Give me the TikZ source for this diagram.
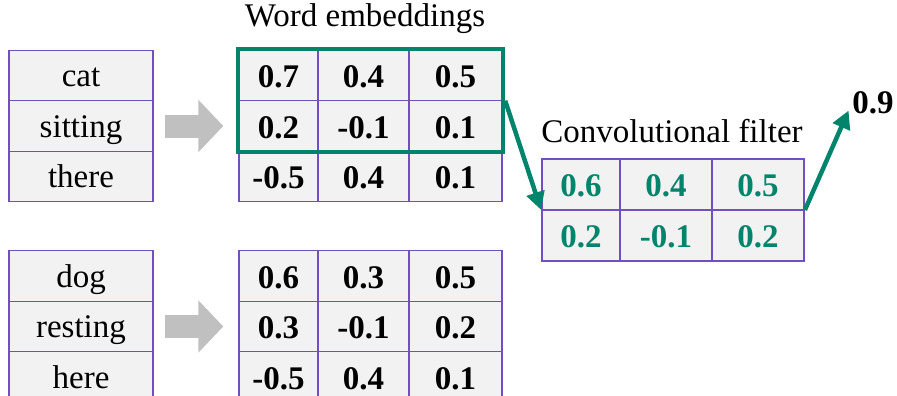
\documentclass[tikz,border=0pt]{standalone}
\usepackage{fontspec}
\setmainfont{Liberation Serif}
\usetikzlibrary{positioning, fit, arrows.meta}
\definecolor{gridpurple}{RGB}{112,80,192}
\definecolor{filtergreen}{RGB}{0,133,108}
\definecolor{cellgrey}{RGB}{242,242,242}
\definecolor{arrowgrey}{RGB}{192,192,192}
\tikzstyle{GreenArrow} = [
%green connector with a filled head:
line width=4.5pt, filtergreen,
-{Triangle[length=18pt, width=18pt]}
]
\tikzstyle{GreyArrow} = [
%broad grey block arrow:
line width=23pt, arrowgrey,
-{Triangle[length=25pt, width=51pt]},
shorten <= 11pt, shorten >= 15pt
]

\begin{document}
\begin{tikzpicture}[x=1pt, y=-1pt,
				cell/.style = {rectangle, draw=gridpurple, line width=1.4pt, fill=cellgrey, minimum height=50.5pt, inner sep=0pt, text depth=0pt},
				word/.style = {cell, minimum width=144pt, text height=22.5pt, font=\fontsize{33}{38}\selectfont},
				num/.style = {cell, text height=24.5pt, font=\fontsize{33}{40}\selectfont\bfseries},
				colA/.style = {num, minimum width=79pt},
				colB/.style = {num, minimum width=91pt},
				colC/.style = {num, minimum width=93pt},
				green/.style = {text=filtergreen, minimum height=51pt},
				title/.style = {anchor=base, inner sep=0pt, font=\fontsize{33}{38}\selectfont},
			]
			\useasboundingbox (0,0) rectangle (897,396);

			% sentence 1
			\node[word](cat) at (81,75.5){cat};
			\node[word](sitting) at (81,126){sitting};
			\node[word](there) at (81,176.5){there};

			\node[colA](a11) at (278.5,75.5){0.7};
			\node[colB](a12) at (363.5,75.5){0.4};
			\node[colC](a13) at (455.5,75.5){0.5};
			\node[colA](a21) at (278.5,126){0.2};
			\node[colB](a22) at (363.5,126){-0.1};
			\node[colC](a23) at (455.5,126){0.1};
			\node[colA](a31) at (278.5,176.5){-0.5};
			\node[colB](a32) at (363.5,176.5){0.4};
			\node[colC](a33) at (455.5,176.5){0.1};

			% sentence 2
			\node[word](dog) at (81,276){dog};
			\node[word](resting) at (81,326.5){resting};
			\node[word](here) at (81,377){here};

			\node[colA](b11) at (278.5,276){0.6};
			\node[colB](b12) at (363.5,276){0.3};
			\node[colC](b13) at (455.5,276){0.5};
			\node[colA](b21) at (278.5,326.5){0.3};
			\node[colB](b22) at (363.5,326.5){-0.1};
			\node[colC](b23) at (455.5,326.5){0.2};
			\node[colA](b31) at (278.5,377){-0.5};
			\node[colB](b32) at (363.5,377){0.4};
			\node[colC](b33) at (455.5,377){0.1};

			% filter
			\node[colA, green, minimum width=78pt](f11) at (581,184.5){0.6};
			\node[colB, green, minimum width=92pt](f12) at (666,184.5){0.4};
			\node[colC, green, minimum width=92pt](f13) at (758,184.5){0.5};
			\node[colA, green, minimum width=78pt](f21) at (581,235.5){0.2};
			\node[colB, green, minimum width=92pt](f22) at (666,235.5){-0.1};
			\node[colC, green, minimum width=92pt](f23) at (758,235.5){0.2};
			\node[fit=(f11)(f23), inner sep=0pt](filter){};

			\node[title](embTitle) at (365,27){Word embeddings};
			\node[title](filterTitle) at (672,142){Convolutional filter};
			\node[title, font=\fontsize{33}{40}\selectfont\bfseries](result) at (873,113){0.9};

			\node[fit=(a11)(a23), draw=filtergreen, line width=4pt, inner sep=0.5pt](window){};

			\draw[GreyArrow](sitting.east)--(a21.west);
			\draw[GreyArrow](resting.east)--(b21.west);
			\draw[GreenArrow](window.east)--(filter.west);
			\draw[GreenArrow, shorten >= 9pt](filter.east)--(result.west);

		\end{tikzpicture}
\end{document}
